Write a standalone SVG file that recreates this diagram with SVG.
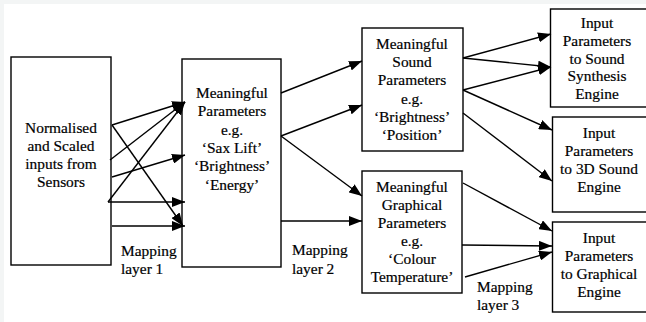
<svg xmlns="http://www.w3.org/2000/svg" width="646" height="322" viewBox="0 0 646 322">
<style>
.box{fill:#fff;stroke:#000;stroke-width:1.4}
text{font-family:"Liberation Serif","Times New Roman",serif;font-size:15.4px;fill:#000;stroke:#000;stroke-width:0.2}
.c{text-anchor:middle}
.ln{stroke:#000;stroke-width:1.4;fill:none}
</style>
<defs>
<marker id="ah" viewBox="0 0 13 10" refX="13" refY="5" markerWidth="13" markerHeight="10" markerUnits="userSpaceOnUse" orient="auto">
<path d="M0,0 L13,5 L0,10 Z" fill="#000"/>
</marker>
</defs>
<rect x="0" y="0" width="646" height="322" fill="#f3f5f5"/>
<rect x="4" y="4" width="642" height="318" fill="#fff"/>

<g id="n_inputs">
<rect class="box" x="11" y="57" width="100" height="208"/>
<text class="c" x="61" y="133">Normalised</text>
<text class="c" x="61" y="151">and Scaled</text>
<text class="c" x="61" y="169">inputs from</text>
<text class="c" x="61" y="187">Sensors</text>
</g>
<g id="n_meaningful">
<rect class="box" x="182" y="59" width="99" height="208"/>
<text class="c" x="232" y="98">Meaningful</text>
<text class="c" x="232" y="116.3">Parameters</text>
<text class="c" x="232" y="134.6">e.g.</text>
<text class="c" x="232" y="152.9">‘Sax Lift’</text>
<text class="c" x="232" y="171.2">‘Brightness’</text>
<text class="c" x="232" y="189.5">‘Energy’</text>
</g>
<g id="n_sound">
<rect class="box" x="362" y="28" width="101" height="123"/>
<text class="c" x="412" y="49">Meaningful</text>
<text class="c" x="412" y="67.2">Sound</text>
<text class="c" x="412" y="85.4">Parameters</text>
<text class="c" x="412" y="103.6">e.g.</text>
<text class="c" x="412" y="121.8">‘Brightness’</text>
<text class="c" x="412" y="140">‘Position’</text>
</g>
<g id="n_graphical">
<rect class="box" x="362" y="171" width="100" height="122"/>
<text class="c" x="412" y="192">Meaningful</text>
<text class="c" x="412" y="210">Graphical</text>
<text class="c" x="412" y="228">Parameters</text>
<text class="c" x="412" y="246">e.g.</text>
<text class="c" x="412" y="264">‘Colour</text>
<text class="c" x="412" y="282">Temperature’</text>
</g>
<g id="n_synth">
<rect class="box" x="550.5" y="9" width="97" height="98"/>
<text class="c" x="597" y="28">Input</text>
<text class="c" x="597" y="45.8">Parameters</text>
<text class="c" x="597" y="63.6">to Sound</text>
<text class="c" x="597" y="81.4">Synthesis</text>
<text class="c" x="597" y="99.2">Engine</text>
</g>
<g id="n_3d">
<rect class="box" x="552.5" y="117" width="95" height="95"/>
<text class="c" x="599" y="138">Input</text>
<text class="c" x="599" y="156">Parameters</text>
<text class="c" x="599" y="174">to 3D Sound</text>
<text class="c" x="599" y="192">Engine</text>
</g>
<g id="n_graph_engine">
<rect class="box" x="552.5" y="222" width="95" height="90"/>
<text class="c" x="599" y="243">Input</text>
<text class="c" x="599" y="261">Parameters</text>
<text class="c" x="599" y="279">to Graphical</text>
<text class="c" x="599" y="297">Engine</text>
</g>

<g id="connectors">
<line class="ln" marker-end="url(#ah)" x1="112" y1="125" x2="185" y2="102"/>
<line class="ln" marker-end="url(#ah)" x1="112" y1="125" x2="183" y2="226"/>
<line class="ln" marker-end="url(#ah)" x1="110" y1="160" x2="185" y2="102"/>
<line class="ln" marker-end="url(#ah)" x1="112" y1="177" x2="185" y2="155"/>
<line class="ln" marker-end="url(#ah)" x1="108" y1="202" x2="185" y2="102"/>
<line class="ln" marker-end="url(#ah)" x1="108" y1="202" x2="185" y2="202"/>
<line class="ln" marker-end="url(#ah)" x1="112" y1="226" x2="185" y2="226"/>

<line class="ln" marker-end="url(#ah)" x1="281" y1="93" x2="362" y2="61"/>
<line class="ln" marker-end="url(#ah)" x1="281" y1="136" x2="362" y2="105"/>
<line class="ln" marker-end="url(#ah)" x1="281" y1="136" x2="362" y2="196"/>
<line class="ln" marker-end="url(#ah)" x1="281" y1="221" x2="362" y2="221"/>

<line class="ln" marker-end="url(#ah)" x1="463" y1="58" x2="551" y2="34"/>
<line class="ln" marker-end="url(#ah)" x1="463" y1="58" x2="551" y2="67"/>
<line class="ln" marker-end="url(#ah)" x1="463" y1="90" x2="551" y2="67"/>
<line class="ln" marker-end="url(#ah)" x1="463" y1="90" x2="552" y2="130"/>
<line class="ln" marker-end="url(#ah)" x1="463" y1="113" x2="552" y2="181"/>
<line class="ln" marker-end="url(#ah)" x1="463" y1="183" x2="552" y2="231"/>
<line class="ln" marker-end="url(#ah)" x1="462" y1="245" x2="552" y2="246"/>
<line class="ln" marker-end="url(#ah)" x1="465" y1="277" x2="552" y2="252"/>
</g>

<g id="labels">
<text x="121" y="256">Mapping</text>
<text x="121" y="274">layer 1</text>
<text x="292" y="255">Mapping</text>
<text x="292" y="274">layer 2</text>
<text x="477" y="292">Mapping</text>
<text x="477" y="310">layer 3</text>
</g>
</svg>
